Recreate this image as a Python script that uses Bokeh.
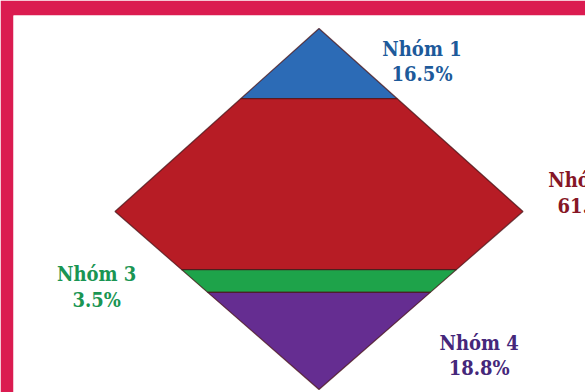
from bokeh.plotting import figure
from bokeh.models import Range1d
from bokeh.embed import file_html
from bokeh.resources import INLINE
from bokeh.core.properties import value

# ---- data ----
groups = ["Nhóm 1", "Nhóm 2", "Nhóm 3", "Nhóm 4"]
percents = [16.5, 61.2, 3.5, 18.8]
fill_colors = ["#2c6bb6", "#b71c25", "#1ea34a", "#652d91"]
label_colors = ["#1d5a9a", "#861626", "#1a9553", "#45277a"]
# band boundaries as depth fraction of the diamond (0 = top apex, 1 = bottom apex)
band_tops = [0.0, 0.194, 0.668, 0.731]
band_bottoms = [0.194, 0.668, 0.731, 1.0]
mid_depth = 0.507  # depth of left/right corners

# label anchors (x in diamond half-widths, y in depth fraction)
label_x = [0.505, 1.318, -1.09, 0.785]
label_y = [0.056, 0.421, 0.680, 0.870]

# ---- layout (pixels) ----
W, H = 585, 392
border_top, border_left = 15, 13
cx, half_w, top_px, height_px = 318.5, 204.0, 28.0, 361.0

p = figure(width=W, height=H, output_backend="svg", toolbar_location=None,
           min_border_top=border_top, min_border_left=border_left,
           min_border_right=0, min_border_bottom=0,
           x_axis_location=None, y_axis_location=None)
p.x_range = Range1d((border_left - cx) / half_w, (W - cx) / half_w)
p.y_range = Range1d((H - top_px) / height_px, (border_top - top_px) / height_px)
p.grid.visible = False
p.outline_line_color = None
p.border_fill_color = "#db1b50"
p.background_fill_color = "white"


def half_width(d):
    if d <= mid_depth:
        return d / mid_depth
    return (1.0 - d) / (1.0 - mid_depth)


xs, ys = [], []
for d0, d1 in zip(band_tops, band_bottoms):
    w0, w1 = half_width(d0), half_width(d1)
    px = [-w0, w0]
    py = [d0, d0]
    if d0 < mid_depth < d1:
        px.append(1.0); py.append(mid_depth)
    px += [w1, -w1]
    py += [d1, d1]
    if d0 < mid_depth < d1:
        px.append(-1.0); py.append(mid_depth)
    xs.append(px)
    ys.append(py)

p.patches(xs, ys, fill_color=fill_colors, line_color="#4a1418",
          line_width=1.2, line_alpha=0.75)

font = value("DejaVu Serif Condensed")
for i, g in enumerate(groups):
    p.text([label_x[i]], [label_y[i]], text=[g], text_color=label_colors[i],
           text_font=font, text_font_style="bold",
           text_font_size="20px", text_align="center", text_baseline="alphabetic")
    p.text([label_x[i]], [label_y[i] + 0.071], text=[f"{percents[i]:.1f}%"],
           text_color=label_colors[i],
           text_font=font, text_font_style="bold",
           text_font_size="20px", text_align="center", text_baseline="alphabetic")

open("out.html", "w").write(file_html(p, INLINE))
